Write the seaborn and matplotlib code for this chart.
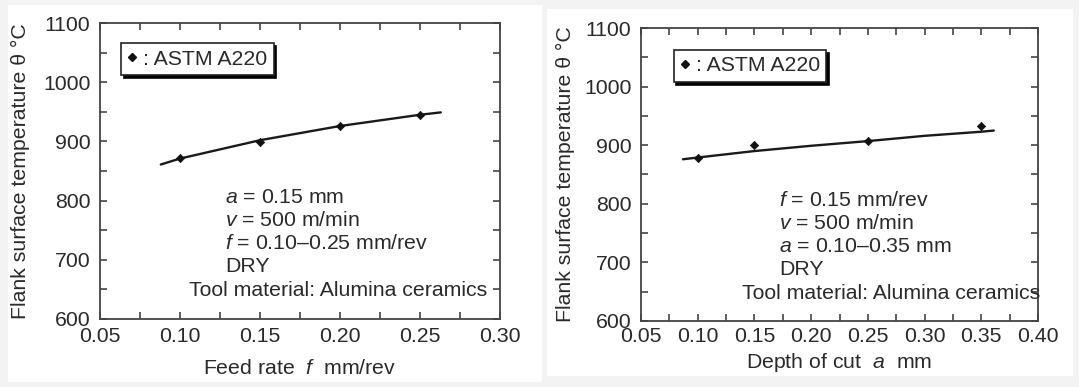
import matplotlib
matplotlib.use("Agg")
import matplotlib.pyplot as plt
from matplotlib.patches import Rectangle
from matplotlib.lines import Line2D
from matplotlib.ticker import MultipleLocator, FormatStrFormatter
import seaborn as sns

# ---- data ----
feed_rate = [0.10, 0.15, 0.20, 0.25]
temp_feed = [872, 899, 926, 945]
feed_fit_x = [0.088, 0.10, 0.15, 0.20, 0.25, 0.263]
feed_fit_y = [861, 871, 902, 926, 945, 949]

depth_cut = [0.10, 0.15, 0.25, 0.35]
temp_depth = [879, 900, 908, 932]
depth_fit_x = [0.087, 0.10, 0.15, 0.20, 0.25, 0.30, 0.35, 0.361]
depth_fit_y = [876, 879, 890, 899, 907, 916, 923, 925]

legend_label = ": ASTM A220"
ylabel = "Flank surface temperature θ °C"
left_notes = ["$a$ = 0.15 mm", "$v$ = 500 m/min", "$f$ = 0.10–0.25 mm/rev", "DRY"]
right_notes = ["$f$ = 0.15 mm/rev", "$v$ = 500 m/min", "$a$ = 0.10–0.35 mm", "DRY"]
tool_note = "Tool material: Alumina ceramics"

sns.set_theme(style="ticks")
plt.rcParams["font.family"] = ["Liberation Sans", "DejaVu Sans"]
plt.rcParams["mathtext.fontset"] = "custom"
plt.rcParams["mathtext.it"] = "Liberation Sans:italic"
plt.rcParams["mathtext.rm"] = "Liberation Sans"

TXT = "#2a2a2a"
FS = 15.3
W, H = 1079, 387
fig = plt.figure(figsize=(W / 100, H / 100), dpi=100, facecolor="#f3f3f3")

# white panels
fig.patches.append(Rectangle((8 / W, 1 - 382 / H), (542 - 8) / W, (382 - 5) / H,
                             transform=fig.transFigure, facecolor="white", edgecolor="none", zorder=-10))
fig.patches.append(Rectangle((547 / W, 1 - 376 / H), (1073 - 547) / W, (376 - 9) / H,
                             transform=fig.transFigure, facecolor="white", edgecolor="none", zorder=-10))


def make_axes(x0, x1, ytop, ybot):
    return fig.add_axes([x0 / W, 1 - ybot / H, (x1 - x0) / W, (ybot - ytop) / H])


def style(ax, xlim, xmaj, xpad, ypad):
    ax.set_facecolor("white")
    ax.set_xlim(*xlim)
    ax.set_ylim(600, 1100)
    ax.xaxis.set_major_locator(MultipleLocator(xmaj))
    ax.xaxis.set_minor_locator(MultipleLocator(xmaj / 2))
    ax.xaxis.set_major_formatter(FormatStrFormatter("%.2f"))
    ax.yaxis.set_major_locator(MultipleLocator(100))
    ax.yaxis.set_minor_locator(MultipleLocator(50))
    for s in ax.spines.values():
        s.set_visible(True)
        s.set_linewidth(1.3)
        s.set_color("#444444")
    ax.tick_params(which="both", direction="in", top=True, right=True,
                   length=5, width=1.2, color="#444444", labelsize=FS, labelcolor=TXT)
    ax.tick_params(axis="x", which="both", pad=xpad)
    ax.tick_params(axis="y", which="both", pad=ypad)


def draw(ax, x, y, fx, fy):
    sns.lineplot(x=fx, y=fy, ax=ax, color="#1a1a1a", linewidth=1.7, sort=False,
                 estimator=None)
    sns.scatterplot(x=x, y=y, ax=ax, marker="D", s=18, color="#111111",
                    edgecolor="#111111", linewidth=0.5, zorder=5)


def legend(ax, anchor):
    h = Line2D([], [], marker="D", linestyle="none", markersize=4,
               color="#111111")
    lg = ax.legend([h], [legend_label], loc="upper left", bbox_to_anchor=anchor,
                   borderaxespad=0, fancybox=False, frameon=True,
                   shadow={"color": "black", "alpha": 1.0},
                   handlelength=0.5, handletextpad=0.25, borderpad=0.3,
                   prop={"size": FS})
    fr = lg.get_frame()
    fr.set_edgecolor("#222222")
    fr.set_linewidth(1.2)
    fr.set_alpha(1)
    for t in lg.get_texts():
        t.set_color(TXT)


# left panel
ax1 = make_axes(100, 500, 23, 319)
style(ax1, (0.05, 0.30), 0.05, 6, 7)
draw(ax1, feed_rate, temp_feed, feed_fit_x, feed_fit_y)
legend(ax1, (0.052, 0.932))
ax1.set_xlabel("Feed rate  $f$  mm/rev", fontsize=FS, color=TXT)
ax1.xaxis.label.set_va("center")
ax1.xaxis.set_label_coords(0.5, (319 - 369) / 296)
ax1.set_ylabel(ylabel, fontsize=FS, color=TXT)
ax1.yaxis.label.set_va("center")
ax1.yaxis.set_label_coords((20 - 100) / 400, 0.5)
for i, s in enumerate(left_notes):
    ax1.text(0.3125, 0.412 - i * 0.0777, s, transform=ax1.transAxes, fontsize=FS,
             color=TXT, va="center", ha="left")
ax1.text(0.2225, 0.412 - 4 * 0.0790, tool_note, transform=ax1.transAxes, fontsize=FS,
         color=TXT, va="center", ha="left")

# right panel
ax2 = make_axes(641, 1038, 28, 321)
style(ax2, (0.05, 0.40), 0.05, 4, 7)
draw(ax2, depth_cut, temp_depth, depth_fit_x, depth_fit_y)
legend(ax2, (0.082, 0.925))
ax2.set_xlabel("Depth of cut  $a$  mm", fontsize=FS, color=TXT)
ax2.xaxis.label.set_va("center")
ax2.xaxis.set_label_coords(0.5, (321 - 363) / 293)
ax2.set_ylabel(ylabel, fontsize=FS, color=TXT)
ax2.yaxis.label.set_va("center")
ax2.yaxis.set_label_coords((565 - 641) / 397, 0.5)
for i, s in enumerate(right_notes):
    ax2.text(0.3476, 0.4096 - i * 0.0785, s, transform=ax2.transAxes, fontsize=FS,
             color=TXT, va="center", ha="left")
ax2.text(0.2544, 0.4096 - 4 * 0.0790, tool_note, transform=ax2.transAxes, fontsize=FS,
         color=TXT, va="center", ha="left")

fig.savefig("out.png", dpi=100, facecolor=fig.get_facecolor())
